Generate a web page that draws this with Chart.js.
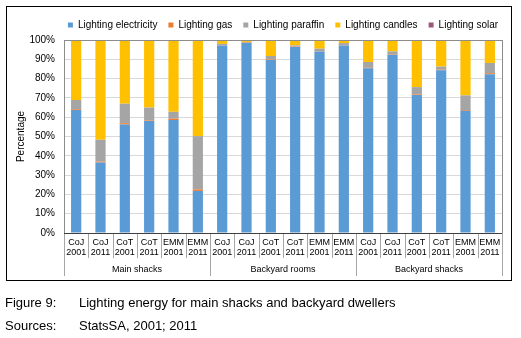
<!DOCTYPE html>
<html>
<head>
<meta charset="utf-8">
<script src="https://cdn.jsdelivr.net/npm/chart.js@4.4.1/dist/chart.umd.min.js"></script>
<style>
  body { margin: 0; background: #fff; font-family: Arial, "Liberation Sans", sans-serif; }
  #wrap { position: relative; width: 521px; height: 338px; }
  #frame { position: absolute; left: 6px; top: 6px; width: 506px; height: 275px; border: 1px solid #000; box-sizing: border-box; }
  canvas { position: absolute; left: 0; top: 0; }
  .cap { position: absolute; left: 5px; font-size: 13px; color: #000; white-space: nowrap; }
  .cap span { position: absolute; left: 74px; }
</style>
</head>
<body>
<div id="wrap">
  <div id="frame"></div>
  <canvas id="lightingChart" width="521" height="338"></canvas>
  <div class="cap" style="top:295px">Figure 9:<span>Lighting energy for main shacks and backyard dwellers</span></div>
  <div class="cap" style="top:318px">Sources:<span>StatsSA, 2001; 2011</span></div>
</div>
<script>
// categories (city + year) and groups
const cities = ["CoJ", "CoJ", "CoT", "CoT", "EMM", "EMM", "CoJ", "CoJ", "CoT", "CoT", "EMM", "EMM", "CoJ", "CoJ", "CoT", "CoT", "EMM", "EMM"];
const years = ["2001", "2011", "2001", "2011", "2001", "2011", "2001", "2011", "2001", "2011", "2001", "2011", "2001", "2011", "2001", "2011", "2001", "2011"];
const groups = ["Main shacks", "Backyard rooms", "Backyard shacks"];
const groupSize = 6;

// percentages
const electricity = [63.7, 36.5, 56.2, 58.0, 58.5, 21.8, 97.2, 98.4, 89.6, 96.4, 94.1, 97.2, 85.3, 92.4, 71.5, 84.3, 63.3, 82.2];
const gas =         [0.4, 0.5, 0.7, 0.3, 0.7, 0.8, 0.2, 0.2, 0.3, 0.2, 0.2, 0.2, 0.3, 0.3, 0.3, 0.3, 0.4, 0.6];
const paraffin =    [4.8, 11.3, 10.1, 6.7, 3.6, 27.6, 0.6, 0.4, 1.8, 0.6, 1.2, 1.0, 3.0, 1.4, 3.8, 1.6, 7.6, 5.3];
const candles =     [30.9, 51.2, 32.8, 34.6, 37.0, 49.6, 1.8, 0.6, 8.1, 2.5, 4.3, 1.3, 11.2, 5.5, 24.2, 13.3, 28.5, 11.6];
const solar =       [0.2, 0.5, 0.2, 0.4, 0.2, 0.2, 0.2, 0.4, 0.2, 0.3, 0.2, 0.3, 0.2, 0.4, 0.2, 0.5, 0.2, 0.3];

const yTicks = [0, 10, 20, 30, 40, 50, 60, 70, 80, 90, 100];

const labels = cities.map((c, i) => [c, years[i]]);

function ds(label, data, color) {
  return {
    label: label,
    data: data,
    backgroundColor: color,
    borderWidth: 0,
    categoryPercentage: 1,
    barPercentage: 0.42,
  };
}

// lignes sous l'axe, noms de groupes, cadre du graphique
const axisDecor = {
  id: "axisDecor",
  afterLayout(chart) {
    // recentrer la légende au-dessus de la zone de tracé
    const lg = chart.legend;
    const shift = (chart.chartArea.left + chart.chartArea.right) / 2 - (lg.left + lg.right) / 2;
    lg.left += shift;
    lg.right += shift;
  },
  afterDraw(chart) {
    const ctx = chart.ctx;
    const x = chart.scales.x;
    const area = chart.chartArea;
    const step = (area.right - area.left) / cities.length;
    ctx.save();
    ctx.lineWidth = 1;
    // cadre gris
    ctx.strokeStyle = "#8c8c8c";
    ctx.strokeRect(Math.round(area.left) + 0.5, Math.round(area.top) + 0.5, Math.round(area.right - area.left), Math.round(area.bottom - area.top));
    // séparateurs de catégories
    ctx.strokeStyle = "#a6a6a6";
    for (let i = 0; i <= cities.length; i++) {
      const px = Math.round(x.getPixelForValue(i) - step / 2) + 0.5;
      const isGroup = i % groupSize === 0;
      ctx.beginPath();
      ctx.moveTo(px, area.bottom);
      ctx.lineTo(px, area.bottom + (isGroup ? 43 : 25));
      ctx.stroke();
    }
    // axe horizontal
    ctx.strokeStyle = "#404040";
    ctx.beginPath();
    ctx.moveTo(area.left, Math.round(area.bottom) + 0.5);
    ctx.lineTo(area.right, Math.round(area.bottom) + 0.5);
    ctx.stroke();
    // noms de groupes
    ctx.fillStyle = "#000";
    ctx.font = "9px Arial, 'Liberation Sans'";
    ctx.textAlign = "center";
    ctx.textBaseline = "middle";
    groups.forEach((g, gi) => {
      const a = x.getPixelForValue(gi * groupSize) - step / 2;
      const b = x.getPixelForValue(gi * groupSize + groupSize - 1) + step / 2;
      ctx.fillText(g, (a + b) / 2, area.bottom + 37);
    });
    ctx.restore();
  },
};

const ctx = document.getElementById("lightingChart").getContext("2d");
Chart.defaults.font.family = "Arial, 'Liberation Sans', sans-serif";
Chart.defaults.font.size = 10;
Chart.defaults.color = "#000";

new Chart(ctx, {
  type: "bar",
  data: {
    labels: labels,
    datasets: [
      ds("Lighting electricity", electricity, "#5b9bd5"),
      ds("Lighting gas", gas, "#ed7d31"),
      ds("Lighting paraffin", paraffin, "#a5a5a5"),
      ds("Lighting candles", candles, "#ffc000"),
      ds("Lighting solar", solar, "#9b5779"),
    ],
  },
  options: {
    responsive: false,
    animation: false,
    layout: { padding: { left: 10, right: 19, top: 9, bottom: 60 } },
    plugins: {
      legend: {
        position: "top",
        labels: { boxWidth: 5, boxHeight: 5, padding: 11, font: { size: 10 }, color: "#000" },
      },
      tooltip: { enabled: false },
    },
    scales: {
      x: {
        stacked: true,
        grid: { display: false, drawTicks: false },
        border: { display: false },
        ticks: { autoSkip: false, maxRotation: 0, minRotation: 0, padding: 5, font: { size: 9, lineHeight: 1.1 } },
        afterFit(scale) { scale.height = 45; },
      },
      y: {
        stacked: true,
        min: 0,
        max: 100,
        afterBuildTicks(scale) { scale.ticks = yTicks.map((v) => ({ value: v })); },
        ticks: { padding: 9, callback: (v) => v + "%", font: { size: 10 } },
        grid: { color: "#d9d9d9", drawTicks: false },
        border: { display: false },
        title: { display: true, text: "Percentage", font: { size: 10 }, padding: { top: 5, bottom: 0 } },
        afterFit(scale) { scale.width = 54; },
      },
    },
  },
  plugins: [axisDecor],
});
</script>
</body>
</html>
